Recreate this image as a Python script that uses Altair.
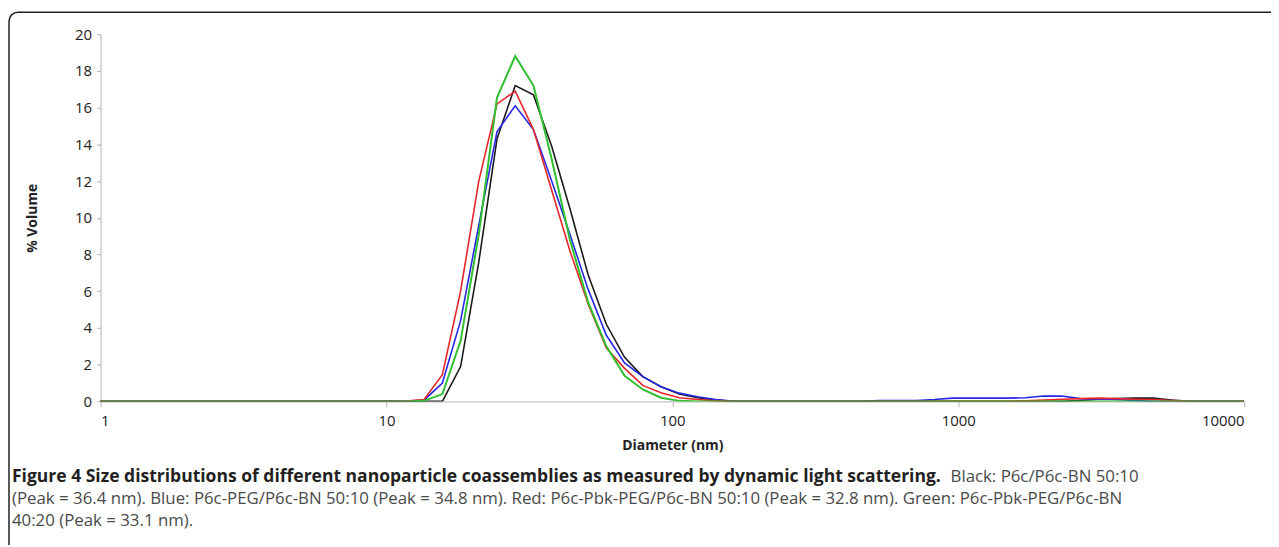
import altair as alt
import pandas as pd

# Malvern size bins (nm)
sizes = [0.9649, 1.117, 1.294, 1.499, 1.736, 2.010, 2.328, 2.696, 3.122, 3.615,
         4.187, 4.849, 5.615, 6.503, 7.531, 8.721, 10.10, 11.70, 13.54, 15.69,
         18.17, 21.04, 24.36, 28.21, 32.67, 37.84, 43.82, 50.75, 58.77, 68.06,
         78.82, 91.28, 105.7, 122.4, 141.8, 164.2, 190.1, 220.2, 255.0, 295.3,
         342.0, 396.1, 458.7, 531.2, 615.1, 712.4, 825.0, 955.4, 1106, 1281,
         1484, 1718, 1990, 2305, 2669, 3091, 3580, 4145, 4801, 5560,
         6439, 7456, 8635, 10000]

black = [0, 0, 0, 0, 0, 0, 0, 0, 0, 0,
         0, 0, 0, 0, 0, 0, 0, 0, 0, 0,
         1.9, 7.6, 14.3, 17.2, 16.7, 13.9, 10.5, 6.9, 4.2, 2.4,
         1.35, 0.8, 0.4, 0.2, 0.07, 0, 0, 0, 0, 0,
         0, 0, 0, 0, 0, 0, 0, 0, 0, 0,
         0, 0, 0, 0, 0.05, 0.12, 0.15, 0.18, 0.18, 0.08,
         0, 0, 0, 0]
blue = [0, 0, 0, 0, 0, 0, 0, 0, 0, 0,
        0, 0, 0, 0, 0, 0, 0, 0, 0.07, 1.0,
        4.4, 9.6, 14.7, 16.1, 14.8, 12.0, 9.1, 6.1, 3.6, 2.1,
        1.35, 0.8, 0.45, 0.25, 0.1, 0, 0, 0, 0, 0,
        0, 0, 0, 0.05, 0.05, 0.05, 0.1, 0.18, 0.18, 0.18,
        0.18, 0.2, 0.29, 0.29, 0.15, 0.12, 0.1, 0.05, 0, 0,
        0, 0, 0, 0]
red = [0, 0, 0, 0, 0, 0, 0, 0, 0, 0,
       0, 0, 0, 0, 0, 0, 0, 0.02, 0.1, 1.45,
       6.0, 12.0, 16.2, 16.9, 14.8, 11.5, 8.2, 5.3, 2.9, 1.8,
       0.87, 0.47, 0.2, 0.1, 0.03, 0, 0, 0, 0, 0,
       0, 0, 0, 0, 0, 0, 0, 0, 0, 0,
       0, 0.03, 0.08, 0.12, 0.15, 0.18, 0.15, 0.12, 0.1, 0.05,
       0, 0, 0, 0]
green = [0, 0, 0, 0, 0, 0, 0, 0, 0, 0,
         0, 0, 0, 0, 0, 0, 0, 0, 0.03, 0.4,
         3.3, 9.1, 16.55, 18.8, 17.2, 13.2, 8.8, 5.4, 3.0, 1.4,
         0.65, 0.2, 0.03, 0, 0, 0, 0, 0, 0, 0,
         0, 0, 0, 0, 0, 0, 0, 0, 0, 0,
         0, 0, 0, 0, 0, 0, 0, 0, 0, 0,
         0, 0, 0, 0]

series = [("Black", black, "#1a1a1a", 1.6), ("Blue", blue, "#2626e6", 1.6),
          ("Red", red, "#e8262b", 1.6), ("Green", green, "#2fbf2f", 2.0)]

x_ticks = [1, 10, 100, 1000, 10000]
y_ticks = [0, 2, 4, 6, 8, 10, 12, 14, 16, 18, 20]

caption_bold = "Figure 4 Size distributions of different nanoparticle coassemblies as measured by dynamic light scattering."
caption_reg1 = "Black: P6c/P6c-BN 50:10"
caption_line2 = "(Peak = 36.4 nm). Blue: P6c-PEG/P6c-BN 50:10 (Peak = 34.8 nm). Red: P6c-Pbk-PEG/P6c-BN 50:10 (Peak = 32.8 nm). Green: P6c-Pbk-PEG/P6c-BN"
caption_line3 = "40:20 (Peak = 33.1 nm)."

W, H = 1149, 369

xscale = alt.Scale(type="log", domain=[1, 10000])
yscale = alt.Scale(domain=[0, 20])

xaxis = alt.Axis(values=x_ticks, format=".0f", title="Diameter (nm)", grid=False,
                 tickSize=5, labelPadding=7, titleY=44, titleBaseline="middle")
yaxis = alt.Axis(values=y_ticks, title="% Volume", grid=False, tickSize=4,
                 labelPadding=5, titleX=-68, titleY=H / 2, titleAngle=270,
                 titleAlign="center", titleBaseline="middle")

layers = []
for name, vals, col, sw in series:
    df = pd.DataFrame({"size": sizes, "vol": vals})
    ch = alt.Chart(df).mark_line(color=col, strokeWidth=sw, clip=True).encode(
        x=alt.X("size:Q", scale=xscale, axis=xaxis),
        y=alt.Y("vol:Q", scale=yscale, axis=yaxis),
    )
    layers.append(ch)

one = pd.DataFrame({"a": [0]})
border = alt.Chart(one).mark_rect(fillOpacity=0, stroke="#222222", strokeWidth=1.5,
                                  cornerRadius=9).encode(
    x=alt.value(-92), x2=alt.value(1200), y=alt.value(-22), y2=alt.value(620))

cap_font = "Open Sans"
t1 = alt.Chart(pd.DataFrame({"t": [caption_bold]})).mark_text(
    align="left", baseline="middle", font=cap_font, fontSize=17.6, fontWeight="bold",
    color="#231f20").encode(text="t:N", x=alt.value(-89), y=alt.value(445))
t1b = alt.Chart(pd.DataFrame({"t": [caption_reg1]})).mark_text(
    align="left", baseline="middle", font=cap_font, fontSize=16.9,
    color="#4a4a4a").encode(text="t:N", x=alt.value(854), y=alt.value(445))
t2 = alt.Chart(pd.DataFrame({"t": [caption_line2]})).mark_text(
    align="left", baseline="middle", font=cap_font, fontSize=16.9,
    color="#4a4a4a").encode(text="t:N", x=alt.value(-89), y=alt.value(467))
t3 = alt.Chart(pd.DataFrame({"t": [caption_line3]})).mark_text(
    align="left", baseline="middle", font=cap_font, fontSize=16.9,
    color="#4a4a4a").encode(text="t:N", x=alt.value(-89), y=alt.value(489))

chart = alt.layer(*layers, border, t1, t1b, t2, t3).properties(
    width=W, height=H,
    autosize=alt.AutoSizeParams(type="none"),
    padding={"left": 93, "top": 25, "right": 27, "bottom": 143},
).configure_view(stroke=None).configure_axis(
    domainColor="#b3b3b3", tickColor="#b3b3b3", labelColor="#222222",
    labelFont="Open Sans", labelFontSize=15, titleFont="Open Sans",
    titleFontSize=14, titleFontWeight="bold", titleColor="#222222", zindex=0,
)

chart.save("out.html", embed_options={"renderer": "svg", "actions": False})
